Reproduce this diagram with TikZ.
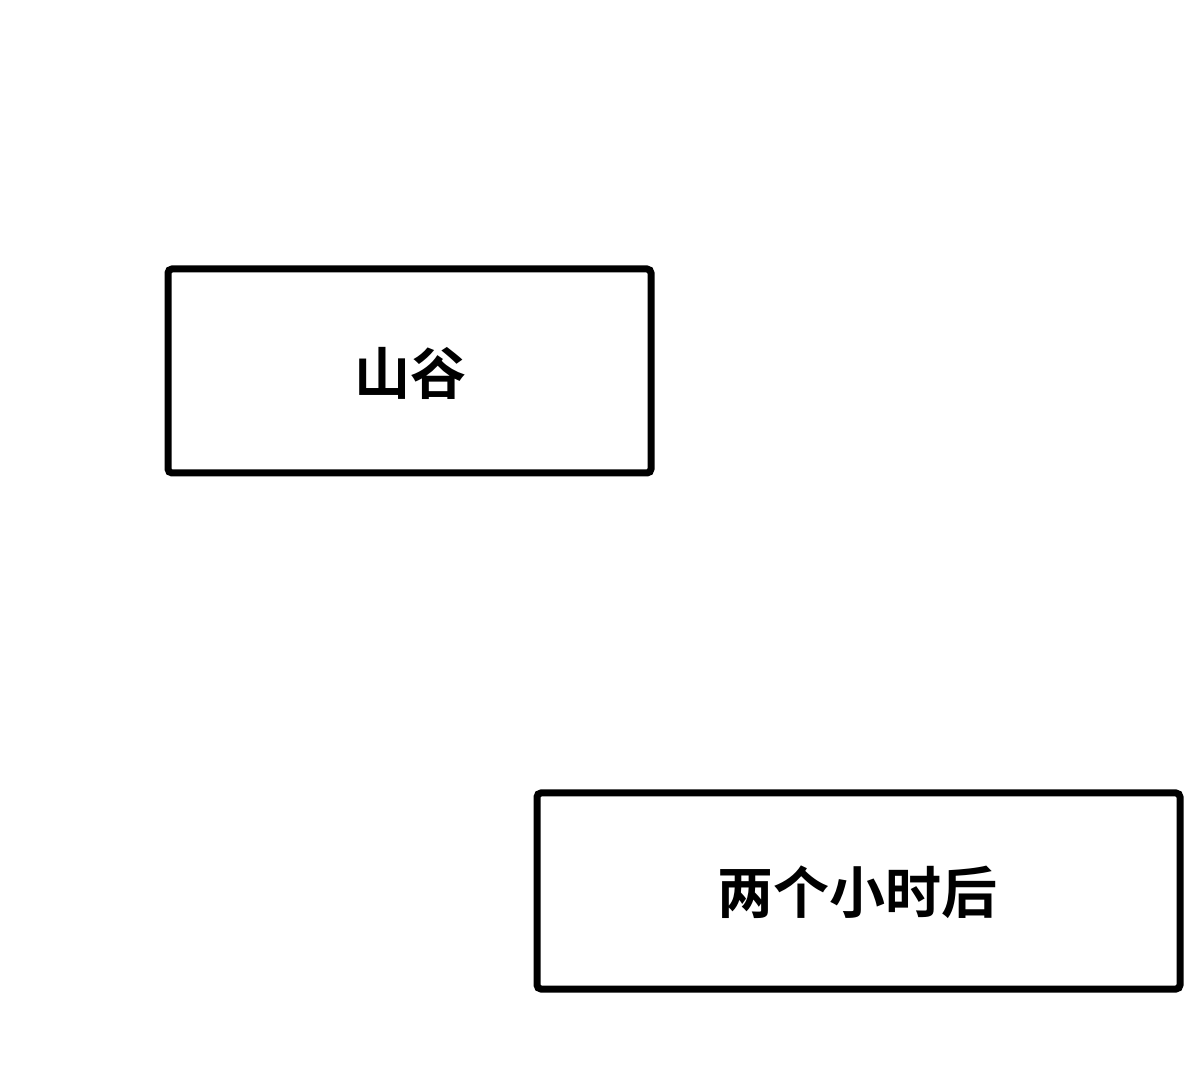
\documentclass[tikz,border=0pt]{standalone}
\usepackage{fontspec}
\newfontfamily\cjk{Noto Sans CJK SC Bold}
\begin{document}
\begin{tikzpicture}[x=1pt,y=1pt,
  panel/.style={draw=black,line width=7pt,rounded corners=4pt,fill=white},
  lbl/.style={font=\cjk\fontsize{56}{60}\selectfont}]
\useasboundingbox (0,0) rectangle (1200,1080);
\fill[white] (0,0) rectangle (1200,1080);
\draw[panel] (168,811) rectangle (651,607);
\draw[panel] (537,287) rectangle (1180,91);
\node[lbl] (a) at (410,707) {山谷};
\node[lbl] (b) at (857,188) {两个小时后};
\end{tikzpicture}
\end{document}
